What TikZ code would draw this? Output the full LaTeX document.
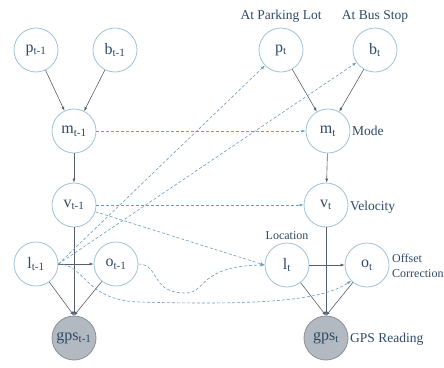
\documentclass[tikz,border=0pt]{standalone}
\usepackage{fontspec}
\setmainfont{Liberation Serif}
\usetikzlibrary{arrows.meta}
\definecolor{ring}{HTML}{9EC3D6}
\definecolor{ink}{HTML}{2E4A66}
\definecolor{edge}{HTML}{56606B}
\definecolor{dashblue}{HTML}{6A9CC0}
\definecolor{obsfill}{HTML}{B2B9C0}

\begin{document}
\begin{tikzpicture}[x=1pt,y=-1pt,
  var/.style={circle,draw=ring,line width=0.8pt,minimum size=44pt,inner sep=0pt,
    text=ink,font=\fontsize{16}{16}\selectfont},
  obs/.style={var,fill=obsfill,draw=edge!70},
  lbl/.style={text=ink,inner sep=1pt,font=\fontsize{13.5}{13.5}\selectfont},
  dep/.style={draw=edge,line width=0.6pt,-{Latex[length=4pt,width=3pt]}},
  tmp/.style={draw=dashblue,line width=0.6pt,dash pattern=on 3pt off 2pt,
    -{Latex[length=4pt,width=3pt]}}]

\useasboundingbox (0,0) rectangle (444,367);

% time slice t-1
\node[var] (p0) at (36,50)  {p\textsubscript{t-1}};
\node[var] (b0) at (115,50) {b\textsubscript{t-1}};
\node[var] (m0) at (74,131) {m\textsubscript{t-1}};
\node[var] (v0) at (74,205) {v\textsubscript{t-1}};
\node[var] (l0) at (36,264) {l\textsubscript{t-1}};
\node[var] (o0) at (116,264) {o\textsubscript{t-1}};
\node[obs] (g0) at (74,338) {gps\textsubscript{t-1}};

% time slice t
\node[var] (p1) at (281,50)  {p\textsubscript{t}};
\node[var] (b1) at (375,50)  {b\textsubscript{t}};
\node[var] (m1) at (328,131) {m\textsubscript{t}};
\node[var] (v1) at (326,205) {v\textsubscript{t}};
\node[var] (l1) at (287,265) {l\textsubscript{t}};
\node[var] (o1) at (367,265) {o\textsubscript{t}};
\node[obs] (g1) at (326,338) {gps\textsubscript{t}};

% captions
\node[lbl] (lp) at (281,16) {At Parking Lot};
\node[lbl] (lb) at (375,16) {At Bus Stop};
\node[lbl,anchor=west] (lm) at (351,131) {Mode};
\node[lbl,anchor=west] (lv) at (349,207) {Velocity};
\node[lbl,font=\fontsize{12}{12}\selectfont] (ll) at (287,236) {Location};
\node[lbl,anchor=west,align=left,font=\fontsize{12}{15}\selectfont] (lo) at (391,266) {Offset\\Correction};
\node[lbl,anchor=west] (lg) at (349,339) {GPS Reading};

% dependencies within a slice
\foreach \s in {0,1}{
  \draw[dep] (p\s) -- (m\s);
  \draw[dep] (b\s) -- (m\s);
  \draw[dep] (m\s) -- (v\s);
  \draw[dep] (v\s) -- (g\s.north);
  \draw[dep] (l\s) -- (g\s.north);
  \draw[dep] (o\s) -- (g\s.north);
  \draw[dep] (l\s.east) -- (o\s.west);
}

% transitions between slices
\draw[tmp] (m0) -- (m1);
\draw[tmp] (v0) -- (v1);
\draw[tmp] (v0) -- (l1.west);
\draw[tmp] (l0.east) -- (p1);
\draw[tmp] (l0.east) -- (b1);
\draw[tmp] (l0.east) .. controls (85,264) and (85,301) .. (140,302)
                     .. controls (250,305) and (320,302) .. (o1.south west);
\draw[tmp] (o0.east) .. controls (160,264) and (150,293) .. (185,293)
                     .. controls (207,293) and (198,266) .. (l1.west);
\end{tikzpicture}
\end{document}
